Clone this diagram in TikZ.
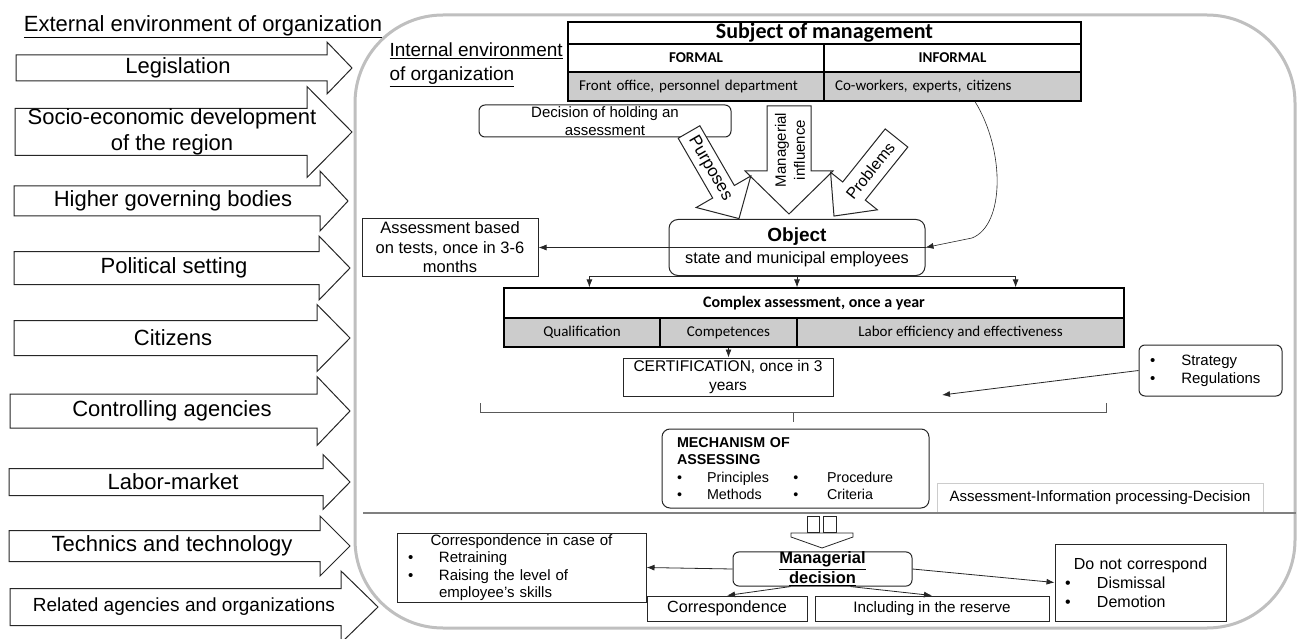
\documentclass[tikz,border=0pt]{standalone}
\usepackage{fontspec}
\setmainfont{Liberation Sans}
\newfontfamily\calibri{Carlito}
\usetikzlibrary{calc,arrows.meta}

\newcommand{\fnt}[2]{\fontsize{#1}{#2}\selectfont}
\definecolor{cellgray}{RGB}{204,204,204}

\tikzset{
  outer/.style={draw=black!25, line width=3},
  extarrow/.style={draw=black!85, line width=1, fill=white},
  blockarrow/.style={draw=black!85, line width=1, fill=white},
  box/.style={draw=black!85, line width=1, inner sep=0pt, align=center, fill=white},
  rbox/.style={box, rounded corners=6},
  cell/.style={draw, line width=1.2, inner sep=0pt, font=\calibri\fnt{15}{18}},
  graycell/.style={cell, fill=cellgray},
  link/.style={draw=black!85, line width=0.8, -{Latex[length=8pt,width=6pt]}},
  thinlink/.style={link, line width=0.6},
  bracket/.style={draw=black!65, line width=0.8},
  sepline/.style={draw=black!50, line width=1.5}
}

\begin{document}
\begin{tikzpicture}[x=1pt, y=-1pt]
\useasboundingbox (0,0) rectangle (1298,639);

% internal environment frame
\draw[outer, rounded corners=88] (355,15) rectangle (1295,628);

% external environment
\node[font=\fnt{22}{26}] (ext) at (203,27) {\underline{External environment of organization}};
\foreach \xa/\xb/\xt/\yc/\sh/\hh/\xc/\fs/\txt [count=\i] in {
  16/327/352/68/13/26/178/22/Legislation,
  15/307/352/132/23.5/45.5/172/22/{Socio-economic development\\of the region},
  14/320/348/201/15/30/173/22/Higher governing bodies,
  14/319/350/268/16.5/32/174/22/Political setting,
  14/317/350/338/17.5/33.5/173/22/Citizens,
  10/317/350/411/17/34.5/172/22/Controlling agencies,
  9/323/350/482/13.5/27.5/173/22/Labor-market,
  9/320/350/546/15.5/30/172/22/Technics and technology,
  10/341/378/607/18.5/36/184/19/Related agencies and organizations}
{
  \draw[extarrow] (\xa,\yc-\sh) -- (\xb,\yc-\sh) -- (\xb,\yc-\hh) -- (\xt,\yc)
    -- (\xb,\yc+\hh) -- (\xb,\yc+\sh) -- (\xa,\yc+\sh) -- cycle;
  \node[font=\fnt{\fs}{26}, align=center] (ext\i) at (\xc,\yc) {\txt};
}

\node[font=\fnt{19}{24}, align=left, anchor=west] (internal) at (386,65)
  {\underline{Internal environment}\\\underline{of organization}};

% subject of management
\node[cell, minimum width=513, minimum height=22, font=\calibri\bfseries\fnt{22}{24}] (subj) at (824.5,33) {Subject of management};
\node[cell, minimum width=256, minimum height=28, font=\calibri\bfseries\fnt{15}{18}] (formal) at (696,58) {FORMAL};
\node[cell, minimum width=257, minimum height=28, font=\calibri\bfseries\fnt{15}{18}] (informal) at (952.5,58) {INFORMAL};
\node[graycell, minimum width=256, minimum height=29, text width=234, inner xsep=11, align=left] (front) at (696,86.5) {Front office, personnel department};
\node[graycell, minimum width=257, minimum height=29, text width=235, inner xsep=11, align=left] (cowork) at (952.5,86.5) {Co-workers, experts, citizens};

\node[rbox, minimum width=252, minimum height=32, font=\fnt{15}{18}] (decide) at (605,121) {Decision of holding an\\assessment};

% block arrows into the object
\draw[blockarrow] (767,106) -- (811,106) -- (811,171) -- (833,171) -- (789,214) -- (745,171) -- (767,171) -- cycle;
\node[rotate=90, font=\fnt{15}{19}, align=center] (infl) at (790,150) {Managerial\\influence};
\begin{scope}[shift={(689,132)}, rotate=-60]
  \draw[blockarrow] (0,-12.5) -- (69,-12.5) -- (69,-31.5) -- (100,0) -- (69,31.5) -- (69,12.5) -- (0,12.5) -- cycle;
  \node[rotate=-60, font=\fnt{17}{19}] (purp) at (42,0) {Purposes};
\end{scope}
\begin{scope}[shift={(896.5,138)}, rotate=231.3]
  \draw[blockarrow] (0,-14.5) -- (68,-14.5) -- (68,-30) -- (100,0) -- (68,30) -- (68,14.5) -- (0,14.5) -- cycle;
  \node[rotate=51.3, font=\fnt{16}{19}] (probl) at (42,0) {Problems};
\end{scope}

% object
\node[rbox, rounded corners=9, minimum width=256, minimum height=56, font=\fnt{16.3}{22}] (obj) at (797,247.5)
  {{\fnt{19}{22}\bfseries Object}\\state and municipal employees};
\node[box, minimum width=176, minimum height=58, font=\fnt{16.5}{19.5}] (tests) at (450,247.5)
  {Assessment based\\on tests, once in 3-6\\months};
\draw[link] (obj.east) -- (tests.east);
\draw[thinlink] ([xshift=22.5pt]cowork.south) .. controls (1005,150) and (1005,225) .. (972,238) -- (obj.east);

% complex assessment
\node[cell, minimum width=620, minimum height=30, font=\calibri\bfseries\fnt{16}{18}] (cplx) at (814,303) {Complex assessment, once a year};
\node[graycell, minimum width=156, minimum height=29] (qual) at (582,332.5) {Qualification};
\node[graycell, minimum width=137, minimum height=29] (comp) at (728.5,332.5) {Competences};
\node[graycell, minimum width=327, minimum height=29] (eff) at (960.5,332.5) {Labor efficiency and effectiveness};
\draw[link] (obj.south) -- (obj.south |- cplx.north);
\draw[link] (obj.south) -| ($(cplx.north west)+(86,0)$);
\draw[link] (obj.south) -| ($(cplx.north east)+(-109,0)$);

\node[box, minimum width=210, minimum height=38, font=\fnt{15.5}{19}] (cert) at (728,377) {CERTIFICATION, once in 3\\years};
\draw[link] (comp.south) -- (comp.south |- cert.north);

\node[rbox, minimum width=143, minimum height=51, text width=121, inner xsep=11, align=left, font=\fnt{15}{18}] (strat) at (1210.5,370.5)
  {\textbullet\hspace{26pt}Strategy\\\textbullet\hspace{26pt}Regulations};
\coordinate (stratend) at (942,395);
\draw[link] (strat.west) -- (stratend);

% bracket
\coordinate (brl) at (480,403);
\coordinate (brr) at (1106,403);
\draw[bracket] (brl) |- (brr |- 0,412) -- (brr);
\draw[bracket] (793,412) -- (793,422);

% mechanism
\node[rbox, rounded corners=8, minimum width=267, minimum height=79, text width=237, inner xsep=15, align=left, font=\fnt{14.3}{17.5}] (mech) at (795.5,468.5)
  {\textbf{MECHANISM OF}\\\textbf{ASSESSING}\\
   \textbullet\hspace{25pt}\makebox[86.5pt][l]{Principles}\textbullet\hspace{28.5pt}Procedure\\
   \textbullet\hspace{25pt}\makebox[86.5pt][l]{Methods}\textbullet\hspace{28.5pt}Criteria};
\node[box, draw=black!20, minimum width=326, minimum height=29, font=\fnt{15}{18}] (aipd) at (1100,497.5) {Assessment-Information processing-Decision};

\draw[sepline] (363,513) -- (1296,513);

% hollow arrow to the decision
\draw[blockarrow, line width=0.8] (807,516) rectangle (819,532);
\draw[blockarrow, line width=0.8] (823,516) rectangle (836,532);
\draw[blockarrow, line width=0.8] (791,533) -- (853,533) -- (853,537) -- (822,548) -- (791,537) -- cycle;

% managerial decision
\node[rbox, minimum width=179, minimum height=34, font=\bfseries\fnt{16.5}{20}] (md) at (822.5,569) {\underline{Managerial}\\\underline{decision}};
\node[box, minimum width=249, minimum height=69, text width=227, inner xsep=11, align=left, font=\fnt{15}{17.3}] (corrcase) at (521.5,567.5)
  {\makebox[227pt]{Correspondence in case of}\\
   \textbullet\hspace{25.7pt}Retraining\\
   \textbullet\hspace{25.7pt}Raising the level of\\
   \hspace*{31pt}employee’s skills};
\node[box, minimum width=160, minimum height=25, font=\fnt{16.2}{18}] (corr) at (727,608.5) {Correspondence};
\node[box, minimum width=234, minimum height=25, font=\fnt{15.2}{18}] (incl) at (932,608.5) {Including in the reserve};
\node[box, minimum width=171, minimum height=77, text width=151, inner xsep=10, align=left, font=\fnt{16}{19}] (dnc) at (1140.5,582.5)
  {\makebox[151pt]{Do not correspond}\\
   \textbullet\hspace{26.4pt}Dismissal\\
   \textbullet\hspace{26.4pt}Demotion};
\draw[link] (md.west) -- (corrcase.east);
\draw[link] (md.east) -- (dnc.west);
\draw[link] ($(md.south)+(-32,0)$) -- (corr.north);
\draw[link] ($(md.south)+(28,0)$) -- (incl.north);
\end{tikzpicture}
\end{document}
